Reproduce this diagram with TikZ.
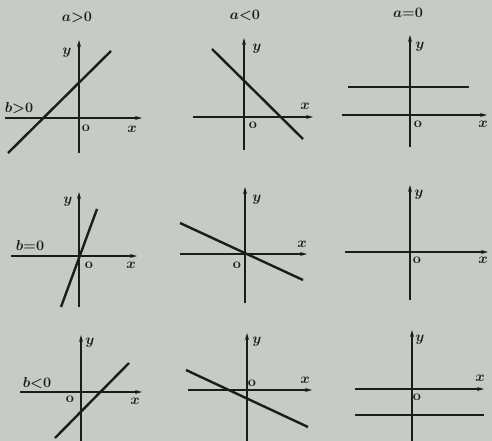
\documentclass[tikz,border=0pt]{standalone}
\usepackage{tikz}
\usepackage{xcolor}
\usetikzlibrary{positioning,arrows.meta}
\definecolor{paper}{RGB}{200,202,199}
\definecolor{ink}{RGB}{28,28,28}
\begin{document}
\begin{tikzpicture}[x=1pt, y=-1pt,
  axis/.style={-{Stealth[length=7pt,width=4pt]}, draw=ink, line width=1.1pt},
  graph/.style={draw=ink, line width=2.4pt},
  lbl/.style={font=\Large\boldmath, text=ink, inner sep=1pt},
  title/.style={font=\Large\boldmath, text=ink, inner sep=1pt}
]
\fill[paper] (0,0) rectangle (492,441);
\useasboundingbox (0,0) rectangle (492,441);
\foreach \n/\oy/\xl/\xr/\ox/\yb/\yt in {1/118/5/142/79/153/40, 2/117/193/313/244/150/38, 3/115/342/487/410/147/35,
  4/256/11/137/79/307/192, 5/254/180/307/245/303/187, 6/252/345/488/410/300/185,
  7/392/20/142/81/441/335, 8/390/188/312/247/441/333, 9/389/355/484/412/441/330}{
  \coordinate (xl\n) at (\xl,\oy);
  \coordinate (xr\n) at (\xr,\oy);
  \coordinate (yb\n) at (\ox,\yb);
  \coordinate (yt\n) at (\ox,\yt);
  \draw[axis] (xl\n) -- (xr\n);
  \draw[axis] (yb\n) -- (yt\n);
}
\coordinate (la1) at (8,153);   \coordinate (lb1) at (111,51);
\coordinate (la2) at (212,49);  \coordinate (lb2) at (303,139);
\coordinate (la3) at (348,87);  \coordinate (lb3) at (469,87);
\coordinate (la4) at (61,307);  \coordinate (lb4) at (97,209);
\coordinate (la5) at (180,223); \coordinate (lb5) at (303,280);
\coordinate (la6) at (355,252); \coordinate (lb6) at (467,252);
\coordinate (la7) at (55,438);  \coordinate (lb7) at (129,363);
\coordinate (la8) at (186,370); \coordinate (lb8) at (308,427);
\coordinate (la9) at (355,415); \coordinate (lb9) at (484,415);
\foreach \n in {1,...,9}{\draw[graph] (la\n) -- (lb\n);}
\node[title] (ta) at (77,17) {$a{>}0$};
\node[title] (tb) at (245,15) {$a{<}0$};
\node[title] (tc) at (408,13) {$a{=}0$};
\node[title] (ba) at (19,108) {$b{>}0$};
\node[title] (bb) at (30,245) {$b{=}0$};
\node[title] (bc) at (37,383) {$b{<}0$};
\foreach \n/\yx/\yy/\xx/\xy/\ux/\uy in {1/67/53/132/129/86/128, 2/257/49/305/106/253/125, 3/420/47/483/124/418/124,
  4/68/202/131/265/89/265, 5/257/200/302/244/237/265, 6/419/195/483/260/417/260,
  7/90/343/135/401/70/399, 8/257/342/305/380/252/383, 9/420/340/480/378/417/397}{
  \node[lbl] (y\n) at (\yx,\yy) {$y$};
  \node[lbl] (x\n) at (\xx,\xy) {$x$};
  \node[lbl] (o\n) at (\ux,\uy) {\bfseries o};
}
\end{tikzpicture}
\end{document}
